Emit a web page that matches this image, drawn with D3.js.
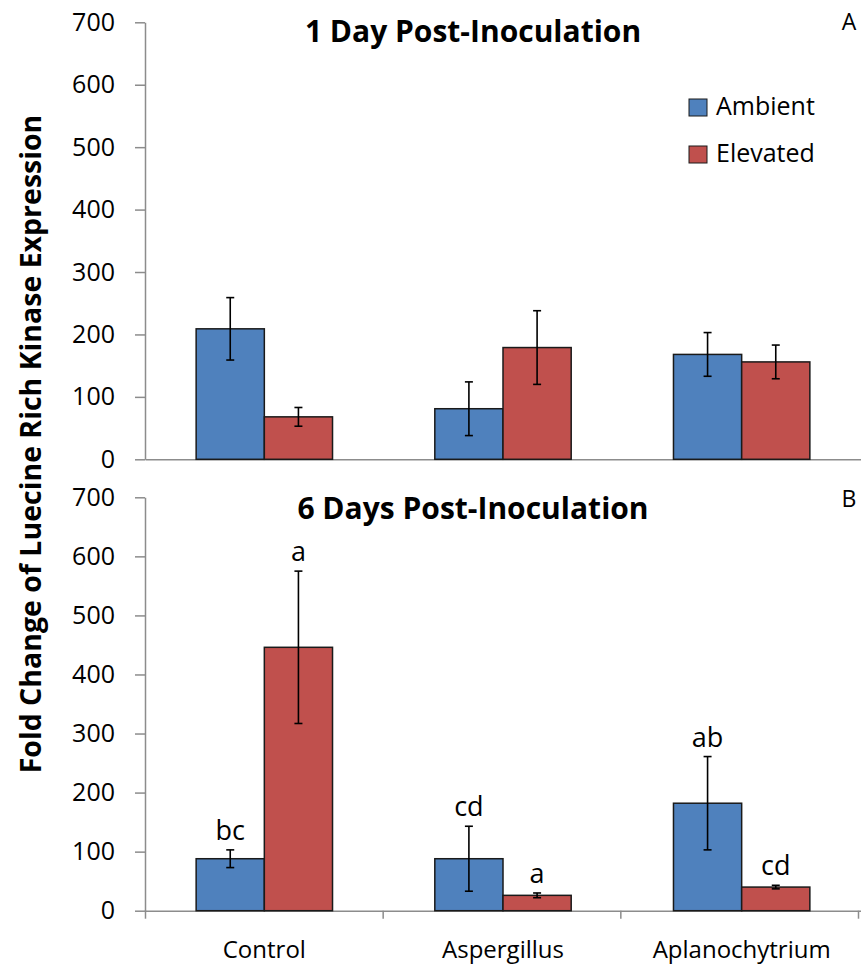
<!DOCTYPE html>
<html>
<head>
<meta charset="utf-8">
<script src="https://cdn.jsdelivr.net/npm/d3@7"></script>
<style>
  body { margin: 0; background: #fff; }
  svg { font-family: "Open Sans", sans-serif; }
  .axis path, .axis line { stroke: #8c8c8c; stroke-width: 1.5px; }
  .axis text { font-family: "Open Sans", sans-serif; font-size: 25px; fill: #000; }
</style>
</head>
<body>
<div id="chart"></div>
<script>
// data
var categories = ["Control", "Aspergillus", "Aplanochytrium"];
var seriesNames = ["Ambient", "Elevated"];
var yTicks = [0, 100, 200, 300, 400, 500, 600, 700];

// 1 day post-inoculation
var day1Ambient = [209, 81, 168];
var day1Elevated = [68, 179, 156];
var day1AmbientErr = [50, 43, 35];
var day1ElevatedErr = [15, 59, 27];

// 6 days post-inoculation
var day6Ambient = [88, 88, 182];
var day6Elevated = [446, 26, 40];
var day6AmbientErr = [15, 55, 79];
var day6ElevatedErr = [129, 4, 3];
var day6AmbientLetters = ["bc", "cd", "ab"];
var day6ElevatedLetters = ["a", "a", "cd"];

var svgWidth = 861;
var svgHeight = 968;
var colors = { Ambient: "#4f81bd", Elevated: "#c0504d" };

var svg = d3.select("#chart")
  .append("svg")
  .attr("width", svgWidth)
  .attr("height", svgHeight);

var xLeft = 145, xRight = 861;

var x0 = d3.scaleBand().domain(categories).range([xLeft, xRight]).padding(0);
var step = x0.step();
var x1 = d3.scaleBand().domain(seriesNames)
  .range([step * 0.75 / 3.5, step * (1 - 0.75 / 3.5)]);

function makeRows(amb, ele, ambErr, eleErr, ambLab, eleLab) {
  var rows = [];
  categories.forEach(function(c, i) {
    rows.push({ cat: c, s: "Ambient", v: amb[i], e: ambErr[i], lab: ambLab ? ambLab[i] : null });
    rows.push({ cat: c, s: "Elevated", v: ele[i], e: eleErr[i], lab: eleLab ? eleLab[i] : null });
  });
  return rows;
}

function drawPanel(rows, y, title, titleY, letter, boundaryTicks) {
  var g = svg.append("g");

  // y axis
  g.append("g")
    .attr("class", "axis")
    .attr("transform", `translate(${xLeft},0)`)
    .call(d3.axisLeft(y).tickValues(yTicks).tickSize(10).tickPadding(20).tickSizeOuter(0));

  // x axis line
  g.append("g")
    .attr("class", "axis")
    .attr("transform", `translate(0,${y(0)})`)
    .call(d3.axisBottom(x0).tickSize(0).tickSizeOuter(0).tickFormat(""));

  if (boundaryTicks) {
    var xb = d3.scaleLinear().domain([0, categories.length]).range([xLeft, xRight - 3]);
    g.append("g")
      .attr("class", "axis")
      .attr("transform", `translate(0,${y(0)})`)
      .call(d3.axisBottom(xb).tickValues(d3.range(categories.length + 1)).tickSize(8).tickSizeOuter(0).tickFormat(""))
      .select(".domain").remove();
  }

  // bars
  g.selectAll("rect.bar")
    .data(rows)
    .enter()
    .append("rect")
    .attr("class", "bar")
    .attr("x", d => x0(d.cat) + x1(d.s))
    .attr("y", d => y(d.v))
    .attr("width", x1.bandwidth())
    .attr("height", d => y(0) - y(d.v))
    .attr("fill", d => colors[d.s])
    .attr("stroke", "#1a1a1a")
    .attr("stroke-width", 1.5);

  // error bars
  var eb = g.selectAll("g.err")
    .data(rows)
    .enter()
    .append("g")
    .attr("class", "err")
    .attr("stroke", "#000")
    .attr("stroke-width", 1.6);
  var cx = d => x0(d.cat) + x1(d.s) + x1.bandwidth() / 2;
  eb.append("line")
    .attr("x1", cx).attr("x2", cx)
    .attr("y1", d => y(d.v + d.e)).attr("y2", d => y(d.v - d.e));
  eb.append("line")
    .attr("x1", d => cx(d) - 4).attr("x2", d => cx(d) + 4)
    .attr("y1", d => y(d.v + d.e)).attr("y2", d => y(d.v + d.e));
  eb.append("line")
    .attr("x1", d => cx(d) - 4).attr("x2", d => cx(d) + 4)
    .attr("y1", d => y(d.v - d.e)).attr("y2", d => y(d.v - d.e));

  // significance letters
  g.selectAll("text.sig")
    .data(rows.filter(d => d.lab))
    .enter()
    .append("text")
    .attr("class", "sig")
    .attr("x", cx)
    .attr("y", d => y(d.v + d.e) - 10)
    .attr("text-anchor", "middle")
    .style("font-size", "27px")
    .text(d => d.lab);

  // title
  g.append("text")
    .attr("x", 473)
    .attr("y", titleY)
    .attr("text-anchor", "middle")
    .style("font-size", "30px")
    .style("font-weight", "bold")
    .text(title);

  g.append("text")
    .attr("x", 849)
    .attr("y", titleY - 12)
    .attr("text-anchor", "middle")
    .style("font-size", "23px")
    .text(letter);
}

var yTop = d3.scaleLinear().domain([0, 700]).range([459.3, 22.3]);
var yBot = d3.scaleLinear().domain([0, 700]).range([910.7, 497.3]);

drawPanel(makeRows(day1Ambient, day1Elevated, day1AmbientErr, day1ElevatedErr),
  yTop, "1 Day Post-Inoculation", 42, "A", false);
drawPanel(makeRows(day6Ambient, day6Elevated, day6AmbientErr, day6ElevatedErr, day6AmbientLetters, day6ElevatedLetters),
  yBot, "6 Days Post-Inoculation", 519, "B", true);

// category labels
svg.append("g")
  .selectAll("text")
  .data(categories)
  .enter()
  .append("text")
  .attr("x", d => x0(d) + x0.bandwidth() / 2)
  .attr("y", 958)
  .attr("text-anchor", "middle")
  .style("font-size", "24px")
  .text(d => d);

// legend
var legend = svg.append("g").attr("transform", "translate(689,99)");
seriesNames.forEach(function(s, i) {
  var row = legend.append("g").attr("transform", `translate(0,${i * 47})`);
  row.append("rect")
    .attr("width", 18).attr("height", 17)
    .attr("fill", colors[s])
    .attr("stroke", "#1a1a1a").attr("stroke-width", 1);
  row.append("text")
    .attr("x", 27).attr("y", 16)
    .style("font-size", "25px")
    .text(s);
});

// y axis title
svg.append("text")
  .attr("transform", "rotate(-90)")
  .attr("x", -444)
  .attr("y", 41)
  .attr("text-anchor", "middle")
  .style("font-size", "28.5px")
  .style("font-weight", "bold")
  .text("Fold Change of Luecine Rich Kinase Expression");
</script>
</body>
</html>
